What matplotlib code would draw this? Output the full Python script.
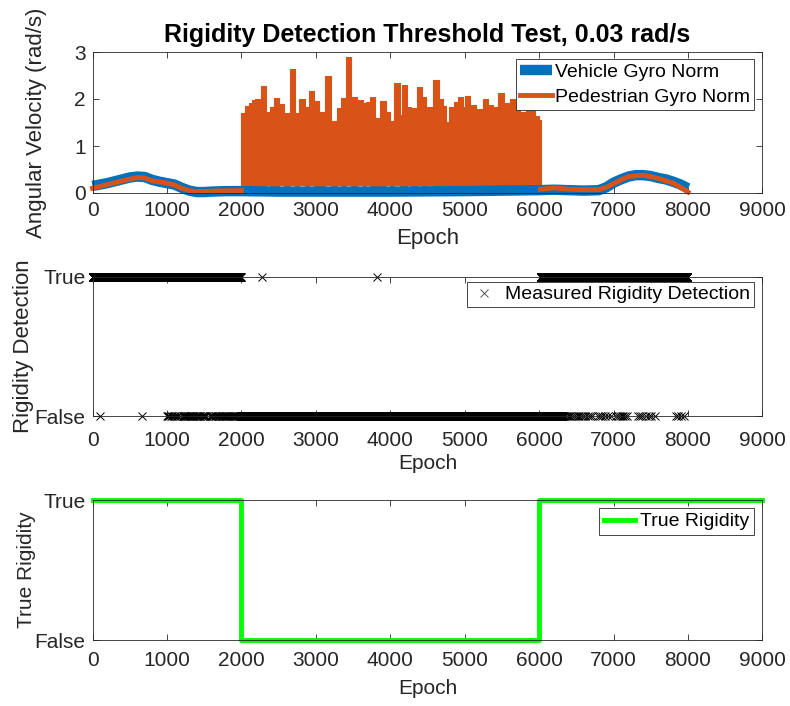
import matplotlib
matplotlib.use("Agg")
import matplotlib.pyplot as plt
import numpy as np

plt.rcParams["font.family"] = ["Liberation Sans", "DejaVu Sans"]

# Vehicle gyro norm (smooth curve), epochs and rad/s
veh_epoch = [0, 100, 200, 300, 400, 500, 600, 700, 800, 900, 1000, 1100, 1200,
             1300, 1400, 1500, 1600, 1800, 2000, 2500, 3000, 4000, 5000, 5500,
             6000, 6200, 6400, 6600, 6800, 6900, 7000, 7100, 7200, 7300, 7400,
             7500, 7600, 7700, 7800, 7900, 8000]
veh_norm = [0.15, 0.18, 0.21, 0.25, 0.29, 0.33, 0.35, 0.34, 0.28, 0.24, 0.21,
            0.18, 0.11, 0.05, 0.02, 0.02, 0.03, 0.04, 0.04, 0.03, 0.03, 0.03,
            0.04, 0.05, 0.06, 0.07, 0.06, 0.05, 0.06, 0.12, 0.22, 0.29, 0.35,
            0.38, 0.38, 0.36, 0.32, 0.29, 0.24, 0.18, 0.10]

# Pedestrian gyro norm, quiet parts
ped_epoch_a = [0, 200, 400, 600, 700, 800, 1000, 1100, 1200, 1300, 1400, 1600,
               1800, 2000]
ped_norm_a = [0.10, 0.18, 0.26, 0.33, 0.32, 0.26, 0.21, 0.17, 0.10, 0.05, 0.03,
              0.04, 0.05, 0.05]
ped_epoch_b = [6020, 6200, 6400, 6600, 6800, 6900, 7000, 7100, 7200, 7400, 7600,
               7800, 7900, 8000]
ped_norm_b = [0.08, 0.11, 0.08, 0.07, 0.07, 0.12, 0.20, 0.28, 0.35, 0.38, 0.31,
              0.21, 0.12, 0.02]

# Pedestrian gyro norm while walking: peak and trough per window
ped_edges = [2000, 2044, 2107, 2142, 2187, 2266, 2329, 2391, 2435, 2506, 2577,
             2648, 2719, 2772, 2852, 2906, 2977, 3039, 3128, 3199, 3288, 3342,
             3405, 3476, 3556, 3627, 3671, 3725, 3796, 3867, 3947, 4000, 4053,
             4124, 4151, 4222, 4284, 4355, 4426, 4480, 4577, 4648, 4702, 4755,
             4790, 4853, 4915, 4978, 5004, 5067, 5147, 5245, 5317, 5379, 5450,
             5522, 5611, 5673, 5736, 5825, 5941, 6003, 6020]
ped_peak = [1.70, 1.85, 1.92, 1.98, 2.01, 2.28, 1.73, 1.84, 2.03, 1.89, 1.70,
            2.64, 1.70, 2.01, 1.83, 2.16, 1.96, 1.73, 2.50, 1.54, 1.80, 2.03,
            2.89, 2.04, 1.98, 1.91, 1.94, 2.05, 1.59, 1.96, 1.73, 1.54, 2.35,
            1.66, 2.29, 1.82, 1.80, 2.25, 2.05, 1.82, 2.41, 2.01, 1.86, 1.51,
            1.82, 1.94, 2.05, 1.84, 2.06, 1.87, 1.79, 2.01, 1.87, 1.84, 2.12,
            1.91, 2.01, 1.87, 1.73, 1.95, 1.63, 1.56]
ped_trough = [0.04, 0.16, 0.15, 0.16, 0.14, 0.05, 0.16, 0.15, 0.05, 0.16, 0.15,
              0.16, 0.06, 0.16, 0.15, 0.16, 0.14, 0.05, 0.16, 0.15, 0.16, 0.14,
              0.16, 0.15, 0.16, 0.14, 0.16, 0.15, 0.04, 0.15, 0.16, 0.14, 0.16,
              0.15, 0.06, 0.16, 0.15, 0.16, 0.14, 0.16, 0.15, 0.16, 0.14, 0.16,
              0.15, 0.16, 0.14, 0.16, 0.15, 0.16, 0.06, 0.15, 0.05, 0.16, 0.15,
              0.16, 0.06, 0.16, 0.15, 0.14, 0.05, 0.06]

# Measured rigidity detection: dense spans and isolated epochs
det_true_spans = [(0, 1990), (6020, 7990)]
det_true_single = [2272, 3817]
det_false_spans = [(1990, 6315)]
det_false_single = [100, 665, 1000, 1015, 1030, 1050, 1065, 1090, 1110, 1130,
                    1150, 1170, 1215, 1225, 1235, 1245, 1255, 1270, 1285, 1300,
                    1310, 1325, 1340, 1355, 1370, 1385, 1400, 1410, 1425, 1440,
                    1450, 1465, 1480, 1495, 1510, 1520, 1585, 1595, 1610, 1625,
                    1640, 1650, 1665, 1680, 1695, 1705, 1720, 1735, 1750, 1765,
                    1780, 1795, 1810, 1825, 1840, 1855, 1870, 1885, 1900, 1915,
                    1930, 1945, 1960, 1975,
                    6330, 6350, 6370, 6395, 6420, 6440, 6465, 6490, 6515, 6540,
                    6565, 6590, 6620, 6650, 6680, 6710, 6790, 6815, 6840, 6880,
                    6930, 6970, 7030, 7060, 7090, 7110, 7130, 7150, 7175, 7330,
                    7350, 7380, 7440, 7470, 7500, 7550, 7840, 7870, 7910, 7950]

# True rigidity (step changes)
truth_epoch = [0, 2000, 6000, 9000]
truth_value = [1, 0, 1, 1]

BLUE = "#0072BD"
ORANGE = "#D95319"
GREEN = "#00FF00"
AXC = "#262626"


def style_axes(ax, ypad_x):
    ax.set_xlim(0, 9000)
    ax.set_xticks(np.arange(0, 9001, 1000))
    ax.tick_params(direction="in", top=True, right=True, length=4, width=0.6,
                   colors=AXC, labelsize=15)
    ax.tick_params(axis="x", pad=ypad_x)
    ax.tick_params(axis="y", pad=5)
    for s in ax.spines.values():
        s.set_color(AXC)
        s.set_linewidth(0.6)


fig = plt.figure(figsize=(7.9, 7.06), dpi=100)
L, W = 92.5 / 790, 670 / 790

# ---- top: gyro norms
ax1 = fig.add_axes([L, 1 - 193 / 706, W, 141 / 706])
ax1.plot(veh_epoch, veh_norm, color=BLUE, lw=7.5, label="Vehicle Gyro Norm",
         solid_capstyle="butt", clip_on=False)
ped_line, = ax1.plot(ped_epoch_a, ped_norm_a, color=ORANGE, lw=3.5,
                     label="Pedestrian Gyro Norm", clip_on=False)
ax1.plot(ped_epoch_b, ped_norm_b, color=ORANGE, lw=3.5, clip_on=False)
ax1.fill_between(ped_edges, ped_trough + [ped_trough[-1]],
                 ped_peak + [ped_peak[-1]], step="post", color=ORANGE, lw=0.8)
ax1.set_ylim(0, 3)
ax1.set_yticks([0, 1, 2, 3])
style_axes(ax1, 6)
ax1.set_xlabel("Epoch", fontsize=16, color=AXC)
ax1.set_ylabel("Angular Velocity (rad/s)", fontsize=16, color=AXC)
ax1.xaxis.set_label_coords(0.5, -0.245)
ax1.yaxis.set_label_coords(-0.068, 0.5)
ax1.set_title("Rigidity Detection Threshold Test, 0.03 rad/s", fontsize=18,
              fontweight="bold", pad=7)
leg1 = ax1.legend(loc="upper right", bbox_to_anchor=(0.987, 0.95),
                  borderaxespad=0, fontsize=14, fancybox=False, framealpha=1,
                  edgecolor=AXC, handlelength=1.65, handletextpad=0.15,
                  borderpad=0.2, labelspacing=0.4)
leg1.get_frame().set_linewidth(0.6)
leg1.set_zorder(5)

# ---- middle: measured detection
true_x = np.concatenate([np.arange(a, b + 1) for a, b in det_true_spans]
                        + [np.array(det_true_single)])
true_x = np.setdiff1d(true_x, det_false_single)
false_x = np.concatenate([np.arange(a, b + 1) for a, b in det_false_spans]
                         + [np.array(det_false_single)])
false_x = np.setdiff1d(false_x, det_true_single)

ax2 = fig.add_axes([L, 1 - 416 / 706, W, 139.3 / 706])
ax2.plot(true_x, np.ones(len(true_x)), "x", color="k", ms=6, mew=0.7,
         clip_on=False, label="Measured Rigidity Detection")
ax2.plot(false_x, np.zeros(len(false_x)), "x", color="k", ms=6, mew=0.7,
         clip_on=False)
ax2.set_ylim(0, 1)
ax2.set_yticks([0, 1])
ax2.set_yticklabels(["False", "True"])
style_axes(ax2, 11)
ax2.set_xlabel("Epoch", fontsize=15, color=AXC)
ax2.set_ylabel("Rigidity Detection", fontsize=16, color=AXC)
ax2.xaxis.set_label_coords(0.5, -0.275)
ax2.yaxis.set_label_coords(-0.087, 0.5)
leg2 = ax2.legend(loc="upper right", bbox_to_anchor=(0.987, 0.962),
                  borderaxespad=0, fontsize=14, fancybox=False, framealpha=1,
                  edgecolor=AXC, handlelength=1.3, handletextpad=0.45,
                  borderpad=0.2)
leg2.get_frame().set_linewidth(0.6)
leg2.legend_handles[0].set_color("#555555")

# ---- bottom: true rigidity
ax3 = fig.add_axes([L, 1 - 640 / 706, W, 140 / 706])
ax3.step(truth_epoch, truth_value, where="post", color=GREEN, lw=3.5,
         clip_on=False, label="True Rigidity")
ax3.set_ylim(0, 1)
ax3.set_yticks([0, 1])
ax3.set_yticklabels(["False", "True"])
style_axes(ax3, 8)
ax3.set_xlabel("Epoch", fontsize=15, color=AXC)
ax3.set_ylabel("True Rigidity", fontsize=15, color=AXC)
ax3.xaxis.set_label_coords(0.5, -0.28)
ax3.yaxis.set_label_coords(-0.084, 0.5)
leg3 = ax3.legend(loc="upper right", bbox_to_anchor=(0.987, 0.943),
                  borderaxespad=0, fontsize=14, fancybox=False, framealpha=1,
                  edgecolor=AXC, handlelength=1.6, handletextpad=0.25,
                  borderpad=0.25)
leg3.get_frame().set_linewidth(0.6)

fig.savefig("out.png", dpi=100)
